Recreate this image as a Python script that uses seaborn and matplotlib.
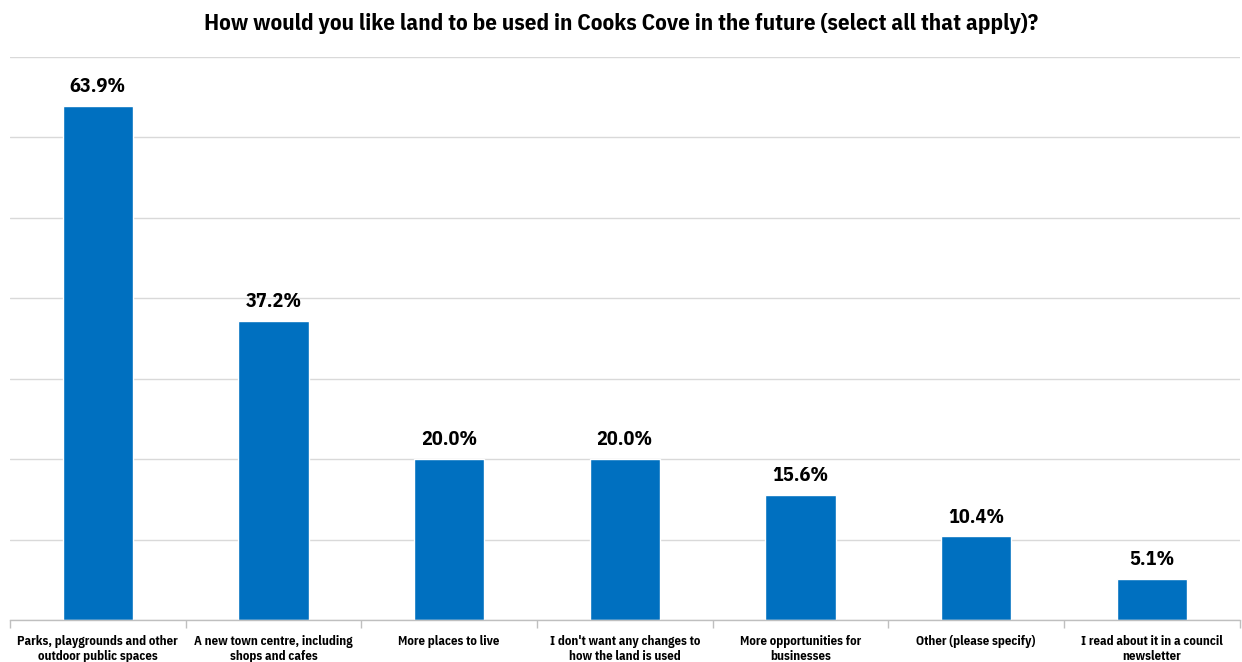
import matplotlib
matplotlib.use("Agg")
import matplotlib.pyplot as plt
import seaborn as sns
import pandas as pd

categories = [
    "Parks, playgrounds and other\noutdoor public spaces",
    "A new town centre, including\nshops and cafes",
    "More places to live",
    "I don't want any changes to\nhow the land is used",
    "More opportunities for\nbusinesses",
    "Other (please specify)",
    "I read about it in a council\nnewsletter",
]
values = [63.9, 37.2, 20.0, 20.0, 15.6, 10.4, 5.1]
title = "How would you like land to be used in Cooks Cove in the future (select all that apply)?"

sns.set_theme(style="white")
plt.rcParams["font.family"] = ["IBM Plex Sans Condensed", "DejaVu Sans"]

df = pd.DataFrame({"category": categories, "value": values})

fig = plt.figure(figsize=(12.42, 6.62), dpi=100)
ax = fig.add_axes([0.008, 0.0634, 0.990, 0.8506])

sns.barplot(data=df, x="category", y="value", color="#0070C0", width=0.4,
            saturation=1, ax=ax)

ax.set_ylim(0, 70)
ax.set_xlim(-0.5, len(categories) - 0.5)
ax.set_yticks(range(0, 71, 10))
ax.yaxis.grid(True, color="#D9D9D9", linewidth=1)
ax.set_axisbelow(True)
ax.tick_params(axis="y", left=False, labelleft=False)
for s in ["top", "right", "left"]:
    ax.spines[s].set_visible(False)
ax.spines["bottom"].set_color("#BFBFBF")
ax.spines["bottom"].set_linewidth(1)

# category separators below the baseline
ax.set_xticks([i - 0.5 for i in range(len(categories) + 1)], minor=True)
ax.tick_params(axis="x", which="minor", bottom=True, length=6, color="#BFBFBF", width=1)
ax.tick_params(axis="x", which="major", bottom=False, pad=5)
ax.set_xticklabels(categories, fontsize=9.2, fontweight="bold", color="black",
                   linespacing=1.2)
ax.set_xlabel("")
ax.set_ylabel("")

for i, v in enumerate(values):
    ax.text(i, v + 1.2, f"{v:.1f}%", ha="center", va="bottom",
            fontsize=14.5, fontweight="bold", color="black")

fig.text(0.5, 0.965, title, ha="center", va="center", fontsize=16.6,
         fontweight="bold", color="black")

fig.savefig("out.png", dpi=100, facecolor="white")
